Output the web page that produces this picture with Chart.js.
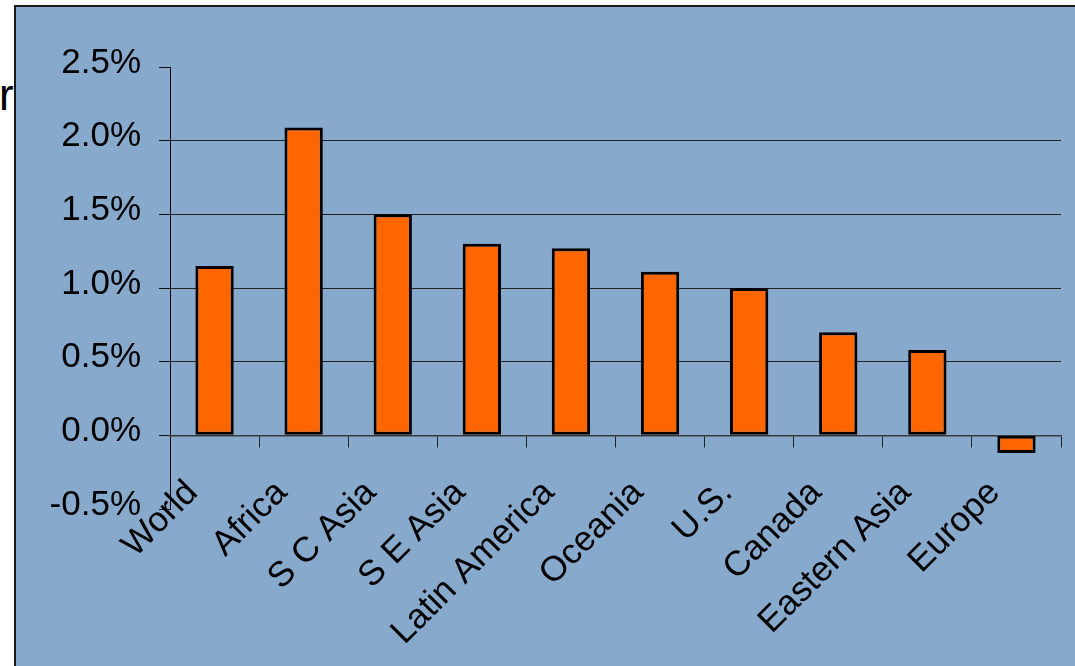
<!DOCTYPE html>
<html>
<head>
<meta charset="utf-8">
<script src="https://cdn.jsdelivr.net/npm/chart.js@4"></script>
<style>
  html, body { margin: 0; padding: 0; background: #ffffff; width: 1075px; height: 666px; overflow: hidden; }
  #frame { position: absolute; left: 14px; top: 5px; width: 1100px; height: 700px; background: #87a9cc; border-left: 2px solid #1a1a1a; border-top: 2px solid #1a1a1a; }
  #side { position: absolute; left: -1px; top: 70px; font: 44px "Liberation Sans", Arial, sans-serif; color: #000; }
  #wrap { position: absolute; left: 0; top: 0; width: 1075px; height: 666px; }
</style>
</head>
<body>
<div id="frame"></div>
<div id="side">r</div>
<div id="wrap"><canvas id="c" width="1075" height="666"></canvas></div>
<script>
const categories = ["World", "Africa", "S C Asia", "S E Asia", "Latin America", "Oceania", "U.S.", "Canada", "Eastern Asia", "Europe"];
const growthRates = [1.15, 2.09, 1.50, 1.30, 1.27, 1.11, 1.00, 0.70, 0.58, -0.12];
const yMin = -0.5, yMax = 2.5, yStep = 0.5;

const FONT = "'Liberation Sans', Arial, sans-serif";

new Chart(document.getElementById('c'), {
  type: 'bar',
  data: {
    labels: categories,
    datasets: [{
      data: growthRates,
      backgroundColor: '#ff6600',
      borderColor: '#000000',
      borderWidth: 3,
      borderSkipped: false,
      barPercentage: 0.43,
      categoryPercentage: 1.0
    }]
  },
  options: {
    responsive: false,
    animation: false,
    layout: { padding: { left: 15, right: 14, top: 67, bottom: 157 } },
    plugins: { legend: { display: false }, tooltip: { enabled: false }, title: { display: false } },
    scales: {
      y: {
        min: yMin, max: yMax,
        afterFit: s => { s.width = 155; },
        ticks: {
          stepSize: yStep,
          padding: 18,
          labelOffset: -4,
          color: '#000',
          font: { family: FONT, size: 35 },
          callback: v => v.toFixed(1) + '%'
        },
        grid: {
          color: ctx => {
            const v = ctx.tick ? ctx.tick.value : 0;
            return (v > 0.01 && v < 2.49) ? '#222222' : 'rgba(0,0,0,0)';
          },
          lineWidth: 1,
          tickColor: '#111111',
          tickLength: 11,
          drawTicks: true
        },
        border: { display: true, color: '#000000', width: 1 }
      },
      x: {
        position: { y: 0 },
        ticks: {
          minRotation: 45, maxRotation: 45,
          autoSkip: false,
          padding: 26,
          labelOffset: -22,
          color: '#000',
          font: { family: FONT, size: 35 }
        },
        grid: {
          offset: true,
          drawOnChartArea: false,
          tickLength: 11,
          tickColor: '#222222',
          lineWidth: 1
        },
        border: { display: true, color: '#3a3a3a', width: 1.5 }
      }
    }
  }
});
</script>
</body>
</html>
